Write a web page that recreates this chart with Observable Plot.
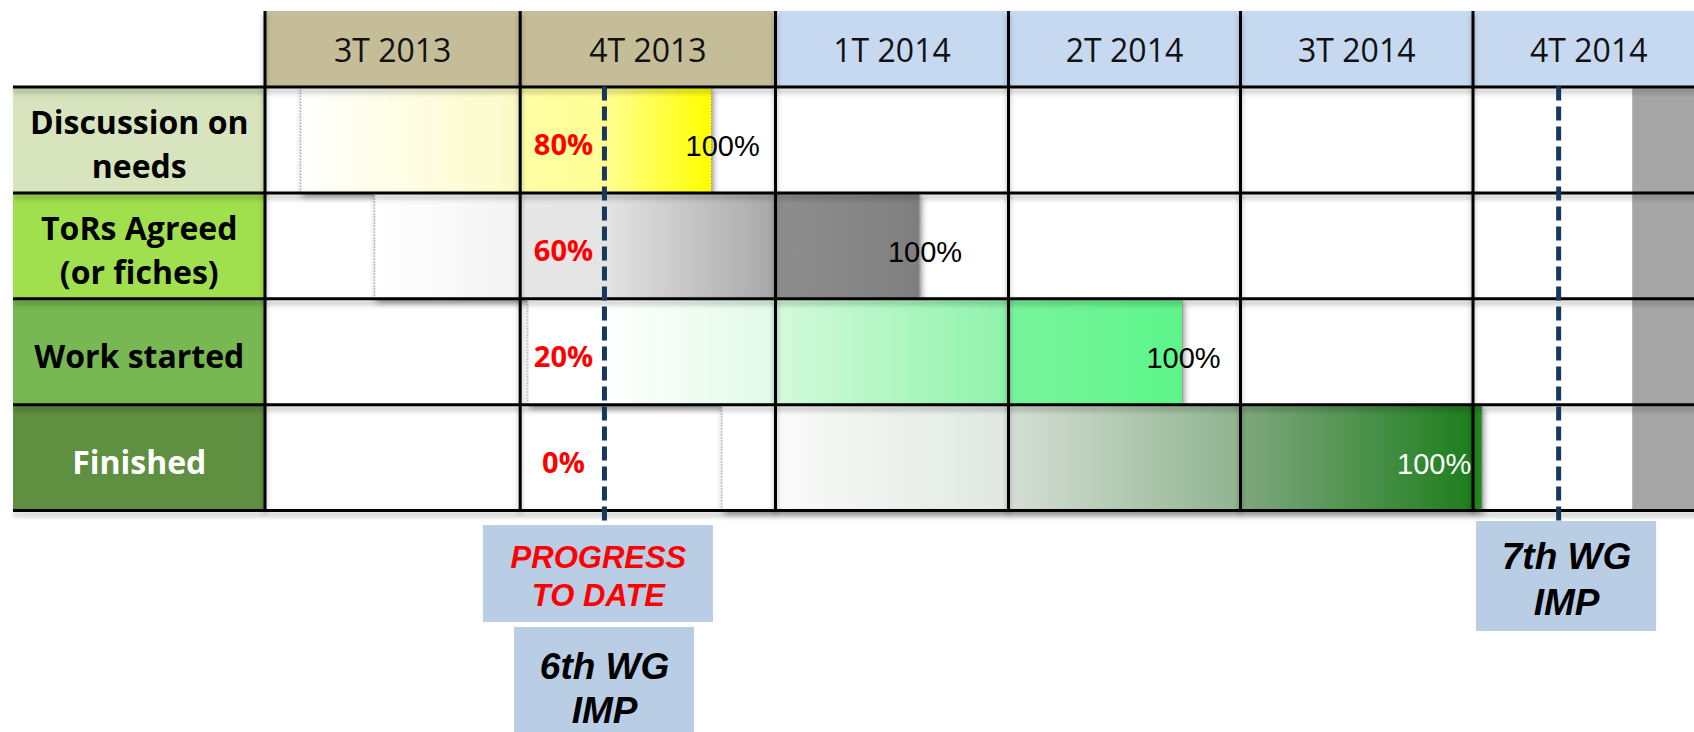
<!DOCTYPE html>
<html>
<head>
<meta charset="utf-8">
<script src="https://cdn.jsdelivr.net/npm/d3@7"></script>
<script src="https://cdn.jsdelivr.net/npm/@observablehq/plot@0.6"></script>
<style>
  html, body { margin: 0; padding: 0; background: #fff; }
  #chart svg { display: block; }
</style>
</head>
<body>
<div id="chart"></div>
<script>
// ---------------- DATA ----------------
// time axis in quarter units: 0 = start of 3T 2013, 1 = start of 4T 2013, ...
const quarters = ["3T 2013", "4T 2013", "1T 2014", "2T 2014", "3T 2014", "4T 2014"];
const quarterYear = [2013, 2013, 2014, 2014, 2014, 2014];
const stages = ["Discussion on\nneeds", "ToRs Agreed\n(or fiches)", "Work started", "Finished"];
const progressPct = [80, 60, 20, 0];
const barStart = [0.14, 0.43, 1.03, 1.79];
const barEnd = [1.75, 2.62, 3.75, 5.04];
const progressDate = 1.33;           // "progress to date" / 6th WG IMP
const nextMeetingDate = 5.37;        // 7th WG IMP
const shadedFrom = 5.69;             // grey band at the right edge
const shadedTo = 6;

// ---------------- STYLE / LAYOUT ----------------
const xDomain = [-1, 0, 1, 2, 3, 4, 5, 6];
const xRange = [13, 264.5, 519.7, 775, 1008, 1240, 1472.5, 1704];
const yDomain = [0, 1, 5];
const yRange = [11, 86.5, 510];
const X = d3.scaleLinear().domain(xDomain).range(xRange);

const yearFill = {2013: "#c4bd97", 2014: "#c6d9f1"};
const stageFill = ["#d7e4bd", "#a0e04e", "#77b852", "#5f8f40"];
const stageInk = ["#000000", "#000000", "#000000", "#ffffff"];
const endInk = ["#000000", "#000000", "#000000", "#ffffff"];
const endAnchor = ["middle", "middle", "middle", "end"];
const endDx = [11, 5, 1, -11];
const barStops = [
  [[0, "#ffffff"], [1, "#fbfbc6"], [1, "#ffffa6"], [1.33, "#ffff94"], [9, "#ffff00"]],
  [[0, "#ffffff"], [1, "#f3f3f3"], [1, "#e7e7e7"], [1.33, "#e4e4e4"], [2, "#a8a8a8"], [2, "#8e8e8e"], [9, "#7f7f7f"]],
  [[0, "#ffffff"], [1.33, "#ffffff"], [2, "#e2fae8"], [2, "#d4fadc"], [3, "#8ef3aa"], [3, "#78f39c"], [9, "#5ef58a"]],
  [[0, "#ffffff"], [2, "#ffffff"], [2, "#fafafa"], [3, "#e0e8e0"], [3, "#d5ded5"], [4, "#90b490"], [4, "#7fa77f"], [5, "#1e7e1e"], [5, "#228822"], [9, "#228822"]]
];
// callout boxes (layout, in the chart's own units)
const callouts = [
  {text: "PROGRESS\nTO DATE", x1: 0.856, x2: 1.757, y1: 5.142, y2: 6.058, ink: "#ff0000", size: 31, lh: 1.235},
  {text: "6th WG\nIMP", x1: 0.978, x2: 1.683, y1: 6.105, y2: 7.2, ink: "#000000", size: 37, lh: 1.19},
  {text: "7th WG\nIMP", x1: 5.015, x2: 5.793, y1: 5.104, y2: 6.143, ink: "#000000", size: 37, lh: 1.22}
];
const lineTop = [5.142, 5.104];

// ---------------- TABLES ----------------
const headerRows = quarters.map((q, i) => ({label: q, i, fill: yearFill[quarterYear[i]]}));
const stageRows = stages.map((s, i) => ({
  label: s, row: i + 1, fill: stageFill[i], ink: stageInk[i],
  start: barStart[i], end: barEnd[i], pct: progressPct[i],
  grad: `url(#bar-${i})`, endInk: endInk[i]
}));
const milestones = [
  {x: progressDate, top: lineTop[0]},
  {x: nextMeetingDate, top: lineTop[1]}
];
const gridV = [0, 1, 2, 3, 4, 5];
const gridH = [1, 2, 3, 4, 5];

const font = "'Open Sans', 'Noto Sans', sans-serif";
const arial = "'Liberation Sans', Arial, sans-serif";

const chart = Plot.plot({
  width: 1694,
  height: 732,
  margin: 0,
  x: {type: "linear", domain: xDomain, range: xRange, axis: null},
  y: {type: "linear", domain: yDomain, range: yRange, axis: null},
  color: {type: "identity"},
  style: {background: "#ffffff", fontFamily: font},
  marks: [
    // header cells
    Plot.rect(headerRows, {x1: d => d.i, x2: d => d.i + 1, y1: 0, y2: 1, fill: d => d.fill}),
    // stage label cells
    Plot.rect(stageRows, {x1: -1, x2: 0, y1: d => d.row, y2: d => d.row + 1, fill: d => d.fill}),
    // grey band
    Plot.rect([{a: shadedFrom, b: shadedTo}], {x1: "a", x2: "b", y1: 1, y2: 5, fill: "#a6a6a6"}),
    // gradient bars
    Plot.rect(stageRows, {x1: "start", x2: "end", y1: d => d.row, y2: d => d.row + 1, fill: d => d.grad, ariaDescription: "bars"}),
    // dotted bar edges
    Plot.ruleX(stageRows, {x: "start", y1: d => d.row, y2: d => d.row + 1, stroke: "#8c8c8c", strokeWidth: 1, strokeDasharray: "1.5,1.5"}),
    Plot.ruleX(stageRows, {x: "end", y1: d => d.row, y2: d => d.row + 1, stroke: "#8c8c8c", strokeWidth: 1, strokeDasharray: "1.5,1.5"}),
    // grid
    Plot.ruleX(gridV, {x: d => d, y1: 0, y2: 5, stroke: "#000", strokeWidth: 3, ariaDescription: "grid"}),
    Plot.ruleX([-1], {x: d => d, y1: 1, y2: 5, stroke: "#000", strokeWidth: 3, ariaDescription: "grid"}),
    Plot.ruleY(gridH, {y: d => d, x1: -1, x2: 6, stroke: "#000", strokeWidth: 3, ariaDescription: "grid"}),
    Plot.ruleY([0], {y: d => d, x1: 0, x2: 6, stroke: "#000", strokeWidth: 3, ariaDescription: "grid"}),
    // milestone dashed lines
    Plot.ruleX(milestones, {x: "x", y1: 1, y2: "top", stroke: "#17375e", strokeWidth: 5, strokeDasharray: "14,6"}),
    // header text
    Plot.text(headerRows, {x: d => d.i + 0.5, y: 0.5, text: "label", fontSize: 32, fontFamily: font, fill: "#111", lineAnchor: "middle", dy: 2}),
    // stage labels
    Plot.text(stageRows, {x: -0.5, y: d => d.row + 0.5, text: "label", fontSize: 32, fontWeight: "bold", fontFamily: font, fill: d => d.ink, lineAnchor: "middle", lineHeight: 1.38, dy: 2}),
    // progress percentages
    Plot.text(stageRows, {x: progressDate, dx: -41, y: d => d.row + 0.5, text: d => `${d.pct}%`, fontSize: 29, fontWeight: "bold", fontFamily: font, fill: "#ff0000", lineAnchor: "middle", dy: 6}),
    // 100% labels at the bar ends
    ...stageRows.map((d, i) => Plot.text([d], {x: "end", dx: endDx[i], y: r => r.row + 0.5, text: () => "100%", textAnchor: endAnchor[i], fontSize: 29, fontFamily: arial, fill: endInk[i], lineAnchor: "middle", dy: 7})),
    // callout boxes
    Plot.rect(callouts, {x1: "x1", x2: "x2", y1: "y1", y2: "y2", fill: "#b9cde5"}),
    ...callouts.map(c => Plot.text([c], {x: d => (d.x1 + d.x2) / 2, y: d => (d.y1 + d.y2) / 2, text: "text", fontSize: c.size, fontWeight: "bold", fontStyle: "italic", fontFamily: arial, fill: c.ink, lineAnchor: "middle", lineHeight: c.lh, dy: 1}))
  ]
});

// gradients + shadows
const svg = d3.select(chart);
const defs = svg.insert("defs", ":first-child");
stageRows.forEach((d, i) => {
  const x1 = X(d.start), x2 = X(d.end);
  const g = defs.append("linearGradient").attr("id", `bar-${i}`)
    .attr("gradientUnits", "userSpaceOnUse").attr("x1", x1).attr("x2", x2).attr("y1", 0).attr("y2", 0);
  barStops[i].forEach(([p, c]) => {
    const px = X(Math.max(d.start, Math.min(d.end, p)));
    g.append("stop").attr("offset", Math.max(0, Math.min(1, (px - x1) / (x2 - x1)))).attr("stop-color", c);
  });
});
const f1 = defs.append("filter").attr("id", "barShadow").attr("x", "-5%").attr("y", "-5%").attr("width", "115%").attr("height", "120%");
f1.append("feDropShadow").attr("dx", 2).attr("dy", 4).attr("stdDeviation", 3).attr("flood-color", "#000").attr("flood-opacity", 0.45);
const f2 = defs.append("filter").attr("id", "gridShadow").attr("x", "-5%").attr("y", "-5%").attr("width", "115%").attr("height", "120%");
f2.append("feDropShadow").attr("dx", 0).attr("dy", 4).attr("stdDeviation", 2.5).attr("flood-color", "#000").attr("flood-opacity", 0.3);
svg.selectAll("g[aria-description='bars']").attr("filter", "url(#barShadow)");
svg.selectAll("g[aria-description='grid']").attr("filter", "url(#gridShadow)");

document.getElementById("chart").appendChild(chart);
</script>
</body>
</html>
